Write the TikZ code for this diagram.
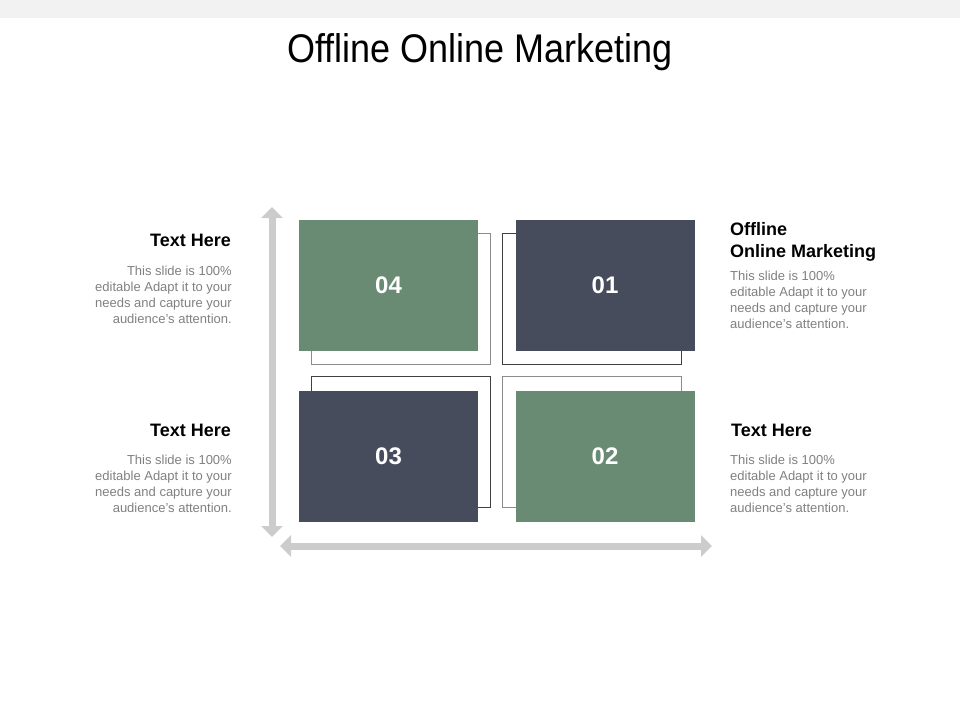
\documentclass[tikz,border=0pt]{standalone}
\usepackage{fontspec}
\setmainfont{Liberation Sans}
\usetikzlibrary{arrows.meta,backgrounds}
\definecolor{boxgreen}{RGB}{106,139,115}
\definecolor{boxslate}{RGB}{71,76,92}
\definecolor{axisgray}{RGB}{204,204,204}
\definecolor{bodygray}{RGB}{128,128,128}
\begin{document}
\begin{tikzpicture}[x=1pt, y=-1pt, node distance=216.5pt]
\tikzstyle{quad} = [rectangle, minimum width=179pt, minimum height=131pt, inner sep=0pt, text=white, font=\bfseries\fontsize{24}{28}\selectfont]
\tikzstyle{frame} = [line width=1pt]
\tikzstyle{head} = [inner sep=0pt, font=\bfseries\fontsize{18}{22}\selectfont]
\tikzstyle{body} = [inner sep=0pt, text=bodygray, font=\fontsize{13}{16}\selectfont]
\tikzstyle{axis} = [line width=7pt, axisgray, {Triangle[width=21pt,length=11pt]}-{Triangle[width=21pt,length=11pt]}]
%
\useasboundingbox (0,0) rectangle (960,720);
\fill [black!5] (0,0) rectangle (960,18);
\node (title) [anchor=base, xscale=0.9, transform shape, font=\fontsize{40}{44}\selectfont] at (480,62) {Offline Online Marketing};
%
\node (q04) [quad, fill=boxgreen] at (388.5,285.5)          {04};
\node (q01) [quad, fill=boxslate, right of=q04]             {01};
\node (q03) [quad, fill=boxslate, below of=q04, yshift=46pt] {03};
\node (q02) [quad, fill=boxgreen, right of=q03]             {02};
%
\begin{scope}[on background layer]
\draw [frame, black!45] ([shift={(12.5,13.5)}]q04.north west) rectangle ([shift={(12.5,13.5)}]q04.south east);
\draw [frame, black!75] ([shift={(-13,13.5)}]q01.north west)  rectangle ([shift={(-13,13.5)}]q01.south east);
\draw [frame, black!75] ([shift={(12.5,-14)}]q03.north west)  rectangle ([shift={(12.5,-14)}]q03.south east);
\draw [frame, black!45] ([shift={(-13,-14)}]q02.north west)   rectangle ([shift={(-13,-14)}]q02.south east);
\end{scope}
%
\coordinate (ytop)   at (272,207);
\coordinate (ybot)   at (272,537);
\coordinate (xleft)  at (280,546);
\coordinate (xright) at (712,546);
\draw [axis] (ybot)  -- (ytop);
\draw [axis] (xleft) -- (xright);
%
\node (h04) [head, anchor=base east] at (231,246) {Text Here};
\node (t04) [body, anchor=north east, align=right] at (232,265.5) {This slide is 100\%\\editable Adapt it to your\\needs and capture your\\audience's attention.};
\node (h03) [head, anchor=base east] at (231,436) {Text Here};
\node (t03) [body, anchor=north east, align=right] at (232,455) {This slide is 100\%\\editable Adapt it to your\\needs and capture your\\audience's attention.};
\node (h01) [head, anchor=north west, align=left] at (730,222) {Offline\\Online Marketing};
\node (t01) [body, anchor=north west, align=left] at (730,270.5) {This slide is 100\%\\editable Adapt it to your\\needs and capture your\\audience's attention.};
\node (h02) [head, anchor=base west] at (731,436) {Text Here};
\node (t02) [body, anchor=north west, align=left] at (730,455) {This slide is 100\%\\editable Adapt it to your\\needs and capture your\\audience's attention.};
\end{tikzpicture}
\end{document}
